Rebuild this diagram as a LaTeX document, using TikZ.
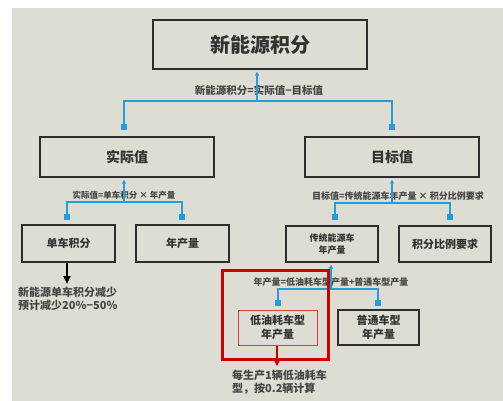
\documentclass[tikz,border=0pt]{standalone}
\usepackage{fontspec}
\setmainfont{Noto Sans CJK SC}
\usetikzlibrary{arrows.meta}
\definecolor{bg}{RGB}{222,221,211}
\definecolor{cblue}{RGB}{30,160,220}
\definecolor{boxline}{RGB}{45,45,45}
\definecolor{txt}{RGB}{50,50,50}
\definecolor{lbl}{RGB}{70,70,70}
\definecolor{cred}{RGB}{200,0,0}
\definecolor{lred}{RGB}{230,60,60}
\tikzset{
  box/.style={draw=boxline,line width=1.4pt,text=txt,font=\bfseries,inner sep=0pt,align=center},
  sq/.style={fill=cblue,inner sep=0pt,minimum size=6pt},
  conn/.style={draw=cblue,line width=1.3pt},
  up/.style={conn,-{Triangle[width=4pt,length=4pt]},shorten >=2pt},
  lab/.style={text=lbl,font=\bfseries\fontsize{9}{10}\selectfont,inner sep=0pt},
  note/.style={text=lbl,font=\bfseries\fontsize{11}{13}\selectfont,align=left,inner sep=0pt}
}
\begin{document}
\begin{tikzpicture}[x=1pt,y=-1pt]
\useasboundingbox (0,0) rectangle (503,401);
\fill[white] (0,0) rectangle (503,401);
\fill[bg] (12,8) rectangle (503,401);
% boxes
\node[box,minimum width=214pt,minimum height=49pt,font=\bfseries\fontsize{20}{22}\selectfont] (top) at (260,44.5) {新能源积分};
\node[box,minimum width=174pt,minimum height=40pt,font=\bfseries\fontsize{14}{16}\selectfont] (act) at (127,157) {实际值};
\node[box,minimum width=174pt,minimum height=40pt,font=\bfseries\fontsize{14}{16}\selectfont] (tgt) at (392,157) {目标值};
\node[box,minimum width=93pt,minimum height=37pt,font=\bfseries\fontsize{11}{13}\selectfont] (dcjf) at (68.5,243.5) {单车积分};
\node[box,minimum width=93pt,minimum height=37pt,font=\bfseries\fontsize{11}{13}\selectfont] (ncl) at (182.5,243.5) {年产量};
\node[box,minimum width=92pt,minimum height=36pt,font=\bfseries\fontsize{9}{12}\selectfont] (ctny) at (332,244) {传统能源车\\年产量};
\node[box,minimum width=92pt,minimum height=36pt,font=\bfseries\fontsize{11}{13}\selectfont] (jfbl) at (445,244) {积分比例要求};
\node[box,draw=lred,line width=1pt,minimum width=79pt,minimum height=35pt,font=\bfseries\fontsize{11}{14}\selectfont] (dyh) at (277.5,327.5) {低油耗车型\\年产量};
\node[box,minimum width=81pt,minimum height=35pt,font=\bfseries\fontsize{11}{14}\selectfont] (pt) at (378.5,327.5) {普通车型\\年产量};
% labels
\node[lab,font=\bfseries\fontsize{10.5}{12}\selectfont] (l1) at (259,90) {新能源积分=实际值−目标值};
\node[lab,font=\bfseries\fontsize{8.5}{10}\selectfont] (l2) at (124,195) {实际值=单车积分 × 年产量};
\node[lab] (l3) at (398,196) {目标值=传统能源车年产量 × 积分比例要求};
\node[lab] (l4) at (331,282) {年产量=低油耗车型产量+普通车型产量};
% junctions and squares
\coordinate (j1) at (257,101);
\node[sq] (s11) at (124,127) {};
\node[sq] (s12) at (392,127) {};
\coordinate (j2) at (124,202);
\node[sq] (s21) at (67,217) {};
\node[sq] (s22) at (182,217) {};
\coordinate (j3) at (392,203);
\node[sq] (s31) at (335,217) {};
\node[sq] (s32) at (450,217) {};
\coordinate (j4) at (331,289);
\node[sq] (s41) at (278,303) {};
\node[sq] (s42) at (378,303) {};
% connectors
\draw[conn] (s11.center) |- (j1) -| (s12.center);
\draw[up] (j1) -- (j1 |- top.south);
\draw[conn] (s21.center) |- (j2) -| (s22.center);
\draw[up] (j2) -- (j2 |- act.south);
\draw[conn] (s31.center) |- (j3) -| (s32.center);
\draw[up] (j3) -- (j3 |- tgt.south);
\draw[conn] (s41.center) |- (j4) -| (s42.center);
\draw[up] (j4) -- (j4 |- ctny.south);
% highlight
\draw[cred,line width=3pt] (222,270) rectangle (328,359);
% notes
\coordinate (e1) at (67,284);
\draw[line width=2pt,-{Triangle[width=7pt,length=8pt]}] (dcjf.south -| e1) -- (e1);
\node[note,anchor=north west] (n1) at (18,287) {新能源单车积分减少\\预计减少20\%−50\%};
\coordinate (e2) at (277,366);
\draw[cred,line width=2pt,-{Triangle[width=6pt,length=6pt]}] (dyh.south -| e2) -- (e2);
\node[note,anchor=north west] (n2) at (232,370) {每生产1辆低油耗车\\型，按0.2辆计算};
\end{tikzpicture}
\end{document}
